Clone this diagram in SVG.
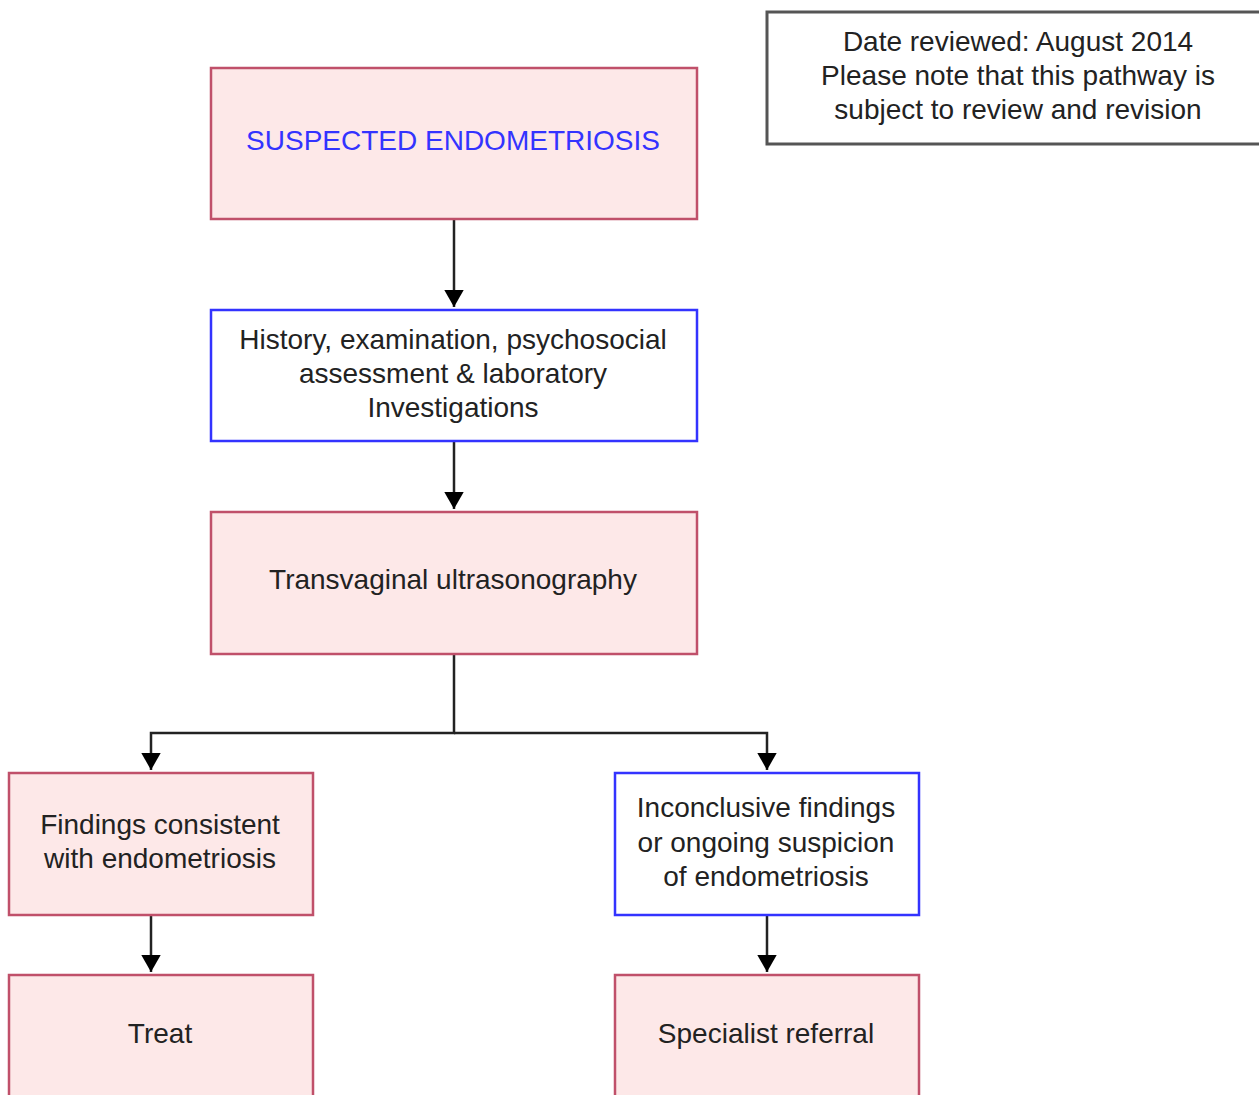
<svg xmlns="http://www.w3.org/2000/svg" width="1259" height="1095" viewBox="0 0 1259 1095">
<style>
text{font-family:"Liberation Sans",Arial,sans-serif;font-size:28px;fill:#222;text-anchor:middle}
.pink{fill:#fde8e8;stroke:#c0506a;stroke-width:2.5}
.blue{fill:#ffffff;stroke:#3333ff;stroke-width:2.5}
.note{fill:#ffffff;stroke:#555555;stroke-width:3}
.conn{fill:none;stroke:#222;stroke-width:2.5}
</style>
<defs>
<marker id="arr" markerWidth="8" markerHeight="8" refX="7" refY="4" orient="auto" markerUnits="strokeWidth">
<path d="M0,0 L7,4 L0,8 Z" fill="#000"/>
</marker>
</defs>
<rect width="1259" height="1095" fill="#ffffff"/>
<g id="note">
<rect class="note" x="767" y="12" width="500" height="132"/>
<text x="1018" y="51">Date reviewed: August 2014</text>
<text x="1018" y="85">Please note that this pathway is</text>
<text x="1018" y="119">subject to review and revision</text>
</g>
<g id="connectors">
<path class="conn" d="M454,219 V307" marker-end="url(#arr)"/>
<path class="conn" d="M454,441 V509" marker-end="url(#arr)"/>
<path class="conn" d="M454,654 V733 H151 V770" marker-end="url(#arr)"/>
<path class="conn" d="M454,733 H767 V770" marker-end="url(#arr)"/>
<path class="conn" d="M151,915 V972" marker-end="url(#arr)"/>
<path class="conn" d="M767,915 V972" marker-end="url(#arr)"/>
</g>
<g id="suspected">
<rect class="pink" x="211" y="68" width="486" height="151"/>
<text x="453" y="150" style="fill:#3333ff">SUSPECTED ENDOMETRIOSIS</text>
</g>
<g id="history">
<rect class="blue" x="211" y="310" width="486" height="131"/>
<text x="453" y="349">History, examination, psychosocial</text>
<text x="453" y="383">assessment &amp; laboratory</text>
<text x="453" y="417">Investigations</text>
</g>
<g id="tvus">
<rect class="pink" x="211" y="512" width="486" height="142"/>
<text x="453" y="589">Transvaginal ultrasonography</text>
</g>
<g id="findings">
<rect class="pink" x="9" y="773" width="304" height="142"/>
<text x="160" y="834">Findings consistent</text>
<text x="160" y="868">with endometriosis</text>
</g>
<g id="inconclusive">
<rect class="blue" x="615" y="773" width="304" height="142"/>
<text x="766" y="817">Inconclusive findings</text>
<text x="766" y="852">or ongoing suspicion</text>
<text x="766" y="886">of endometriosis</text>
</g>
<g id="treat">
<rect class="pink" x="9" y="975" width="304" height="140"/>
<text x="160" y="1043">Treat</text>
</g>
<g id="referral">
<rect class="pink" x="615" y="975" width="304" height="140"/>
<text x="766" y="1043">Specialist referral</text>
</g>
</svg>
